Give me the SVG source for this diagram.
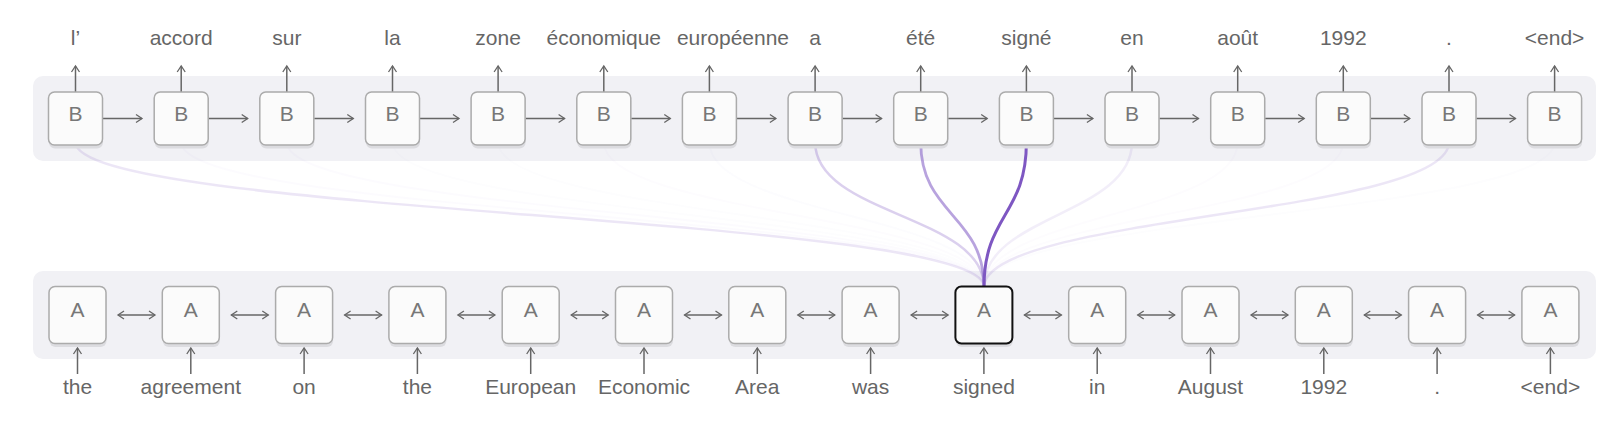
<svg xmlns="http://www.w3.org/2000/svg" width="1620" height="436" viewBox="0 0 1620 436">
<defs>
<marker id="ah" markerUnits="userSpaceOnUse" markerWidth="12" markerHeight="12" refX="8" refY="6" orient="auto-start-reverse" viewBox="0 0 12 12">
<path d="M2,2 L8,6 L2,10" fill="none" stroke="#666" stroke-width="1.3"/>
</marker>
</defs>
<style>
.panel{fill:#f1f1f5}
.box{fill:#fbfbfb;stroke:#ababab;stroke-width:1.5}
.hl{fill:#fbfbfb;stroke:#111;stroke-width:2}
.sh{fill:#dcdce0}
.lbl{font-family:"Liberation Sans",Arial,sans-serif;font-size:21px;fill:#666;text-anchor:middle}
.nl{font-family:"Liberation Sans",Arial,sans-serif;font-size:21px;fill:#777;text-anchor:middle}
.ar{stroke:#666;stroke-width:1.5;fill:none;marker-end:url(#ah)}
.da{stroke:#666;stroke-width:1.5;fill:none;marker-end:url(#ah);marker-start:url(#ah)}
.att{fill:none;stroke:#7e57c2;stroke-linecap:round}
</style>
<rect class="panel" x="33" y="76" width="1563" height="85" rx="10"/>
<rect class="panel" x="33" y="271" width="1563" height="88" rx="10"/>
<g id="connectors">
<g id="attention">
<path class="att" d="M75.5,142 C75.5,215 984,215 984,287" stroke-width="2.5" stroke-opacity="0.15"/>
<path class="att" d="M181.2,142 C181.2,215 984,215 984,287" stroke-width="2" stroke-opacity="0.025"/>
<path class="att" d="M286.8,142 C286.8,215 984,215 984,287" stroke-width="2" stroke-opacity="0.025"/>
<path class="att" d="M392.5,142 C392.5,215 984,215 984,287" stroke-width="2" stroke-opacity="0.01"/>
<path class="att" d="M498.1,142 C498.1,215 984,215 984,287" stroke-width="2" stroke-opacity="0.01"/>
<path class="att" d="M603.8,142 C603.8,215 984,215 984,287" stroke-width="2" stroke-opacity="0.015"/>
<path class="att" d="M709.4,142 C709.4,215 984,215 984,287" stroke-width="2" stroke-opacity="0.02"/>
<path class="att" d="M815.1,142 C815.1,215 984,215 984,287" stroke-width="2.5" stroke-opacity="0.28"/>
<path class="att" d="M920.7,142 C920.7,215 984,215 984,287" stroke-width="2.8" stroke-opacity="0.55"/>
<path class="att" d="M1026.4,142 C1026.4,215 984,215 984,287" stroke-width="3" stroke-opacity="1"/>
<path class="att" d="M1132,142 C1132,215 984,215 984,287" stroke-width="2.5" stroke-opacity="0.1"/>
<path class="att" d="M1237.7,142 C1237.7,215 984,215 984,287" stroke-width="2" stroke-opacity="0.015"/>
<path class="att" d="M1343.3,142 C1343.3,215 984,215 984,287" stroke-width="2" stroke-opacity="0.015"/>
<path class="att" d="M1449,142 C1449,215 984,215 984,287" stroke-width="2.5" stroke-opacity="0.15"/>
<path class="att" d="M1554.6,142 C1554.6,215 984,215 984,287" stroke-width="2" stroke-opacity="0.01"/>
</g>
<g id="top-arrows">
<line class="ar" x1="75.5" y1="92" x2="75.5" y2="66"/>
<line class="ar" x1="181.2" y1="92" x2="181.2" y2="66"/>
<line class="ar" x1="286.8" y1="92" x2="286.8" y2="66"/>
<line class="ar" x1="392.5" y1="92" x2="392.5" y2="66"/>
<line class="ar" x1="498.1" y1="92" x2="498.1" y2="66"/>
<line class="ar" x1="603.8" y1="92" x2="603.8" y2="66"/>
<line class="ar" x1="709.4" y1="92" x2="709.4" y2="66"/>
<line class="ar" x1="815.1" y1="92" x2="815.1" y2="66"/>
<line class="ar" x1="920.7" y1="92" x2="920.7" y2="66"/>
<line class="ar" x1="1026.4" y1="92" x2="1026.4" y2="66"/>
<line class="ar" x1="1132" y1="92" x2="1132" y2="66"/>
<line class="ar" x1="1237.7" y1="92" x2="1237.7" y2="66"/>
<line class="ar" x1="1343.3" y1="92" x2="1343.3" y2="66"/>
<line class="ar" x1="1449" y1="92" x2="1449" y2="66"/>
<line class="ar" x1="1554.6" y1="92" x2="1554.6" y2="66"/>
<line class="ar" x1="102.5" y1="118.5" x2="142" y2="118.5"/>
<line class="ar" x1="208.2" y1="118.5" x2="247.7" y2="118.5"/>
<line class="ar" x1="313.8" y1="118.5" x2="353.3" y2="118.5"/>
<line class="ar" x1="419.5" y1="118.5" x2="459" y2="118.5"/>
<line class="ar" x1="525.1" y1="118.5" x2="564.6" y2="118.5"/>
<line class="ar" x1="630.8" y1="118.5" x2="670.3" y2="118.5"/>
<line class="ar" x1="736.4" y1="118.5" x2="775.9" y2="118.5"/>
<line class="ar" x1="842.1" y1="118.5" x2="881.6" y2="118.5"/>
<line class="ar" x1="947.7" y1="118.5" x2="987.2" y2="118.5"/>
<line class="ar" x1="1053.4" y1="118.5" x2="1092.9" y2="118.5"/>
<line class="ar" x1="1159" y1="118.5" x2="1198.5" y2="118.5"/>
<line class="ar" x1="1264.7" y1="118.5" x2="1304.2" y2="118.5"/>
<line class="ar" x1="1370.3" y1="118.5" x2="1409.8" y2="118.5"/>
<line class="ar" x1="1476" y1="118.5" x2="1515.5" y2="118.5"/>
</g>
<g id="bottom-arrows">
<line class="ar" x1="77.5" y1="374" x2="77.5" y2="348"/>
<line class="ar" x1="190.8" y1="374" x2="190.8" y2="348"/>
<line class="ar" x1="304.1" y1="374" x2="304.1" y2="348"/>
<line class="ar" x1="417.4" y1="374" x2="417.4" y2="348"/>
<line class="ar" x1="530.7" y1="374" x2="530.7" y2="348"/>
<line class="ar" x1="644" y1="374" x2="644" y2="348"/>
<line class="ar" x1="757.3" y1="374" x2="757.3" y2="348"/>
<line class="ar" x1="870.6" y1="374" x2="870.6" y2="348"/>
<line class="ar" x1="983.9" y1="374" x2="983.9" y2="348"/>
<line class="ar" x1="1097.2" y1="374" x2="1097.2" y2="348"/>
<line class="ar" x1="1210.5" y1="374" x2="1210.5" y2="348"/>
<line class="ar" x1="1323.8" y1="374" x2="1323.8" y2="348"/>
<line class="ar" x1="1437.1" y1="374" x2="1437.1" y2="348"/>
<line class="ar" x1="1550.4" y1="374" x2="1550.4" y2="348"/>
<line class="da" x1="118" y1="315" x2="155" y2="315"/>
<line class="da" x1="231.3" y1="315" x2="268.3" y2="315"/>
<line class="da" x1="344.6" y1="315" x2="381.6" y2="315"/>
<line class="da" x1="457.9" y1="315" x2="494.9" y2="315"/>
<line class="da" x1="571.2" y1="315" x2="608.2" y2="315"/>
<line class="da" x1="684.5" y1="315" x2="721.5" y2="315"/>
<line class="da" x1="797.8" y1="315" x2="834.8" y2="315"/>
<line class="da" x1="911.1" y1="315" x2="948.1" y2="315"/>
<line class="da" x1="1024.4" y1="315" x2="1061.4" y2="315"/>
<line class="da" x1="1137.7" y1="315" x2="1174.7" y2="315"/>
<line class="da" x1="1251" y1="315" x2="1288" y2="315"/>
<line class="da" x1="1364.3" y1="315" x2="1401.3" y2="315"/>
<line class="da" x1="1477.6" y1="315" x2="1514.6" y2="315"/>
</g>
</g>
<g id="top-labels">
<text class="lbl" x="75.5" y="45">l’</text>
<text class="lbl" x="181.2" y="45">accord</text>
<text class="lbl" x="286.8" y="45">sur</text>
<text class="lbl" x="392.5" y="45">la</text>
<text class="lbl" x="498.1" y="45">zone</text>
<text class="lbl" x="603.8" y="45">économique</text>
<text class="lbl" x="733" y="45">européenne</text>
<text class="lbl" x="815.1" y="45">a</text>
<text class="lbl" x="920.7" y="45">été</text>
<text class="lbl" x="1026.4" y="45">signé</text>
<text class="lbl" x="1132" y="45">en</text>
<text class="lbl" x="1237.7" y="45">août</text>
<text class="lbl" x="1343.3" y="45">1992</text>
<text class="lbl" x="1449" y="45">.</text>
<text class="lbl" x="1554.6" y="45">&lt;end&gt;</text>
</g>
<g id="bottom-labels">
<text class="lbl" x="77.5" y="394">the</text>
<text class="lbl" x="190.8" y="394">agreement</text>
<text class="lbl" x="304.1" y="394">on</text>
<text class="lbl" x="417.4" y="394">the</text>
<text class="lbl" x="530.7" y="394">European</text>
<text class="lbl" x="644" y="394">Economic</text>
<text class="lbl" x="757.3" y="394">Area</text>
<text class="lbl" x="870.6" y="394">was</text>
<text class="lbl" x="983.9" y="394">signed</text>
<text class="lbl" x="1097.2" y="394">in</text>
<text class="lbl" x="1210.5" y="394">August</text>
<text class="lbl" x="1323.8" y="394">1992</text>
<text class="lbl" x="1437.1" y="394">.</text>
<text class="lbl" x="1550.4" y="394">&lt;end&gt;</text>
</g>
<g id="B1"><rect class="sh" x="49" y="95.5" width="54" height="53" rx="6"/><rect class="box" x="48.5" y="92" width="54" height="53" rx="6"/><text class="nl" x="75.5" y="121">B</text></g>
<g id="B2"><rect class="sh" x="154.7" y="95.5" width="54" height="53" rx="6"/><rect class="box" x="154.2" y="92" width="54" height="53" rx="6"/><text class="nl" x="181.2" y="121">B</text></g>
<g id="B3"><rect class="sh" x="260.3" y="95.5" width="54" height="53" rx="6"/><rect class="box" x="259.8" y="92" width="54" height="53" rx="6"/><text class="nl" x="286.8" y="121">B</text></g>
<g id="B4"><rect class="sh" x="366" y="95.5" width="54" height="53" rx="6"/><rect class="box" x="365.5" y="92" width="54" height="53" rx="6"/><text class="nl" x="392.5" y="121">B</text></g>
<g id="B5"><rect class="sh" x="471.6" y="95.5" width="54" height="53" rx="6"/><rect class="box" x="471.1" y="92" width="54" height="53" rx="6"/><text class="nl" x="498.1" y="121">B</text></g>
<g id="B6"><rect class="sh" x="577.3" y="95.5" width="54" height="53" rx="6"/><rect class="box" x="576.8" y="92" width="54" height="53" rx="6"/><text class="nl" x="603.8" y="121">B</text></g>
<g id="B7"><rect class="sh" x="682.9" y="95.5" width="54" height="53" rx="6"/><rect class="box" x="682.4" y="92" width="54" height="53" rx="6"/><text class="nl" x="709.4" y="121">B</text></g>
<g id="B8"><rect class="sh" x="788.6" y="95.5" width="54" height="53" rx="6"/><rect class="box" x="788.1" y="92" width="54" height="53" rx="6"/><text class="nl" x="815.1" y="121">B</text></g>
<g id="B9"><rect class="sh" x="894.2" y="95.5" width="54" height="53" rx="6"/><rect class="box" x="893.7" y="92" width="54" height="53" rx="6"/><text class="nl" x="920.7" y="121">B</text></g>
<g id="B10"><rect class="sh" x="999.9" y="95.5" width="54" height="53" rx="6"/><rect class="box" x="999.4" y="92" width="54" height="53" rx="6"/><text class="nl" x="1026.4" y="121">B</text></g>
<g id="B11"><rect class="sh" x="1105.5" y="95.5" width="54" height="53" rx="6"/><rect class="box" x="1105" y="92" width="54" height="53" rx="6"/><text class="nl" x="1132" y="121">B</text></g>
<g id="B12"><rect class="sh" x="1211.2" y="95.5" width="54" height="53" rx="6"/><rect class="box" x="1210.7" y="92" width="54" height="53" rx="6"/><text class="nl" x="1237.7" y="121">B</text></g>
<g id="B13"><rect class="sh" x="1316.8" y="95.5" width="54" height="53" rx="6"/><rect class="box" x="1316.3" y="92" width="54" height="53" rx="6"/><text class="nl" x="1343.3" y="121">B</text></g>
<g id="B14"><rect class="sh" x="1422.5" y="95.5" width="54" height="53" rx="6"/><rect class="box" x="1422" y="92" width="54" height="53" rx="6"/><text class="nl" x="1449" y="121">B</text></g>
<g id="B15"><rect class="sh" x="1528.1" y="95.5" width="54" height="53" rx="6"/><rect class="box" x="1527.6" y="92" width="54" height="53" rx="6"/><text class="nl" x="1554.6" y="121">B</text></g>
<g id="A1"><rect class="sh" x="49.5" y="290" width="57" height="57" rx="6"/><rect class="box" x="49" y="286.5" width="57" height="57" rx="6"/><text class="nl" x="77.5" y="317">A</text></g>
<g id="A2"><rect class="sh" x="162.8" y="290" width="57" height="57" rx="6"/><rect class="box" x="162.3" y="286.5" width="57" height="57" rx="6"/><text class="nl" x="190.8" y="317">A</text></g>
<g id="A3"><rect class="sh" x="276.1" y="290" width="57" height="57" rx="6"/><rect class="box" x="275.6" y="286.5" width="57" height="57" rx="6"/><text class="nl" x="304.1" y="317">A</text></g>
<g id="A4"><rect class="sh" x="389.4" y="290" width="57" height="57" rx="6"/><rect class="box" x="388.9" y="286.5" width="57" height="57" rx="6"/><text class="nl" x="417.4" y="317">A</text></g>
<g id="A5"><rect class="sh" x="502.7" y="290" width="57" height="57" rx="6"/><rect class="box" x="502.2" y="286.5" width="57" height="57" rx="6"/><text class="nl" x="530.7" y="317">A</text></g>
<g id="A6"><rect class="sh" x="616" y="290" width="57" height="57" rx="6"/><rect class="box" x="615.5" y="286.5" width="57" height="57" rx="6"/><text class="nl" x="644" y="317">A</text></g>
<g id="A7"><rect class="sh" x="729.3" y="290" width="57" height="57" rx="6"/><rect class="box" x="728.8" y="286.5" width="57" height="57" rx="6"/><text class="nl" x="757.3" y="317">A</text></g>
<g id="A8"><rect class="sh" x="842.6" y="290" width="57" height="57" rx="6"/><rect class="box" x="842.1" y="286.5" width="57" height="57" rx="6"/><text class="nl" x="870.6" y="317">A</text></g>
<g id="A9"><rect class="sh" x="955.9" y="290" width="57" height="57" rx="6"/><rect class="hl" x="955.4" y="286.5" width="57" height="57" rx="6"/><text class="nl" x="983.9" y="317">A</text></g>
<g id="A10"><rect class="sh" x="1069.2" y="290" width="57" height="57" rx="6"/><rect class="box" x="1068.7" y="286.5" width="57" height="57" rx="6"/><text class="nl" x="1097.2" y="317">A</text></g>
<g id="A11"><rect class="sh" x="1182.5" y="290" width="57" height="57" rx="6"/><rect class="box" x="1182" y="286.5" width="57" height="57" rx="6"/><text class="nl" x="1210.5" y="317">A</text></g>
<g id="A12"><rect class="sh" x="1295.8" y="290" width="57" height="57" rx="6"/><rect class="box" x="1295.3" y="286.5" width="57" height="57" rx="6"/><text class="nl" x="1323.8" y="317">A</text></g>
<g id="A13"><rect class="sh" x="1409.1" y="290" width="57" height="57" rx="6"/><rect class="box" x="1408.6" y="286.5" width="57" height="57" rx="6"/><text class="nl" x="1437.1" y="317">A</text></g>
<g id="A14"><rect class="sh" x="1522.4" y="290" width="57" height="57" rx="6"/><rect class="box" x="1521.9" y="286.5" width="57" height="57" rx="6"/><text class="nl" x="1550.4" y="317">A</text></g>
</svg>
